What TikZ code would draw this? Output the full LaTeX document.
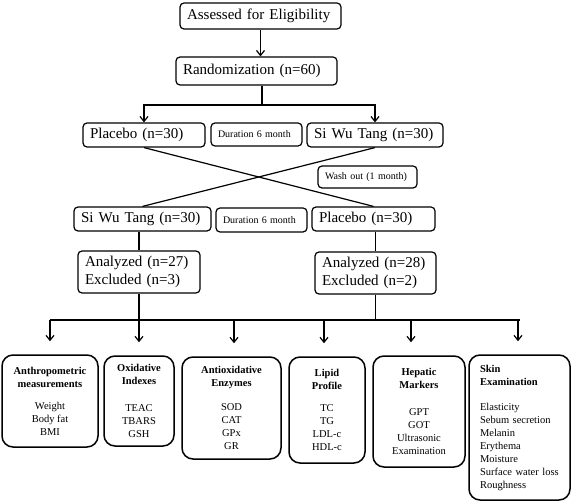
\documentclass[tikz,border=0pt]{standalone}
\usepackage{fontspec}
\setmainfont{Liberation Serif}
\usetikzlibrary{arrows.meta,calc}
\begin{document}
\begin{tikzpicture}[x=1pt,y=-1pt,
  big/.style={font=\fontsize{15}{18}\selectfont},
  sm/.style={font=\fontsize{10}{12}\selectfont},
  tb/.style={draw, line width=1.2pt, rounded corners=4pt, align=left, inner xsep=7pt, inner ysep=0pt, fill=white},
  bb/.style={draw, line width=1.5pt, rounded corners=11pt, inner sep=0pt, fill=white, align=center, font=\fontsize{10.5}{13}\selectfont},
  ln/.style={line width=1.2pt},
  arr/.style={line width=1.2pt, -{Straight Barb[length=5pt,width=8pt]}},
  darr/.style={line width=1.2pt, {Straight Barb[length=5pt,width=8pt]}-{Straight Barb[length=5pt,width=8pt]}},
]
\useasboundingbox (0,0) rectangle (572,502);

% top boxes
\node[tb,big,text width=147pt,minimum height=26pt] (assess) at (260.5,16) {Assessed for Eligibility};
\node[tb,big,text width=147pt,minimum height=28pt] (rand) at (256.5,71) {Randomization (n=60)};
\node[tb,big,text width=108pt,minimum height=24pt] (plac1) at (144,135) {Placebo (n=30)};
\node[tb,sm,text width=77pt,minimum height=23pt] (dur1) at (256.5,134.5) {Duration 6 month};
\node[tb,big,text width=122pt,minimum height=24pt] (swt1) at (375,135) {Si Wu Tang (n=30)};
\node[tb,sm,text width=85pt,minimum height=22pt] (wash) at (367.5,177) {Wash out (1 month)};
\node[tb,big,text width=123pt,minimum height=24pt] (swt2) at (142.5,219) {Si Wu Tang (n=30)};
\node[tb,sm,text width=77pt,minimum height=24pt] (dur2) at (261.5,220) {Duration 6 month};
\node[tb,big,text width=109pt,minimum height=24pt] (plac2) at (373.5,219) {Placebo (n=30)};
\node[tb,big,text width=108pt,minimum height=42pt] (an1) at (139,272) {Analyzed (n=27)\\Excluded (n=3)};
\node[tb,big,text width=107pt,minimum height=42pt] (an2) at (375.5,273) {Analyzed (n=28)\\Excluded (n=2)};

% bottom boxes
\node[bb,minimum width=96pt,minimum height=92pt] (b1) at (50,401)
  {\textbf{Anthropometric}\\\textbf{measurements}\\[9pt]Weight\\Body fat\\BMI};
\node[bb,minimum width=70pt,minimum height=90pt] (b2) at (139,401)
  {\textbf{Oxidative}\\\textbf{Indexes}\\[14pt]TEAC\\TBARS\\GSH};
\node[bb,minimum width=99pt,minimum height=102pt] (b3) at (231.5,408)
  {\textbf{Antioxidative}\\\textbf{Enzymes}\\[11pt]SOD\\CAT\\GPx\\GR};
\node[bb,minimum width=76pt,minimum height=106pt] (b4) at (327,410)
  {\textbf{Lipid}\\\textbf{Profile}\\[9pt]TC\\TG\\LDL-c\\HDL-c};
\node[bb,minimum width=92pt,minimum height=111pt] (b5) at (419,411.5)
  {\textbf{Hepatic}\\\textbf{Markers}\\[14pt]GPT\\GOT\\Ultrasonic\\Examination};
\node[bb,align=left,inner xsep=11pt,text width=79pt,minimum height=145pt] (b6) at (519.5,427.5)
  {\textbf{Skin}\\\textbf{Examination}\\[12pt]Elasticity\\Sebum secretion\\Melanin\\Erythema\\Moisture\\Surface water loss\\Roughness};

% connectors
\draw[arr] (assess.south) -- (assess.south |- rand.north);
\coordinate (j1) at (262,105);
\draw[ln] (rand.south -| j1) -- (j1);
\draw[darr] (plac1.north) |- (j1) -| (swt1.north);
\draw[ln] (plac1.south) -- (plac2.north);
\draw[ln] (swt1.south) -- (swt2.north);
\draw[ln] (an1.north |- swt2.south) -- (an1.north);
\draw[ln] (an2.north |- plac2.south) -- (an2.north);

\coordinate (hl) at (0,320);
\draw[ln] (an1.south) -- (an1.south |- hl);
\draw[ln] (an2.south) -- (an2.south |- hl);
\draw[ln] (b1.north |- hl) -- (b6.north |- hl);
\coordinate (t1) at (b1.north);
\coordinate (t2) at (b2.north);
\coordinate (t3) at ($(b3.north)+(2.5,0)$);
\coordinate (t4) at ($(b4.north)+(-3,0)$);
\coordinate (t5) at ($(b5.north)+(-8,0)$);
\coordinate (t6) at ($(b6.north)+(-1.5,0)$);
\foreach \t in {t1,t2,t3,t4,t5,t6}
  \draw[arr, shorten >=13pt] (\t |- hl) -- (\t);
\end{tikzpicture}
\end{document}
